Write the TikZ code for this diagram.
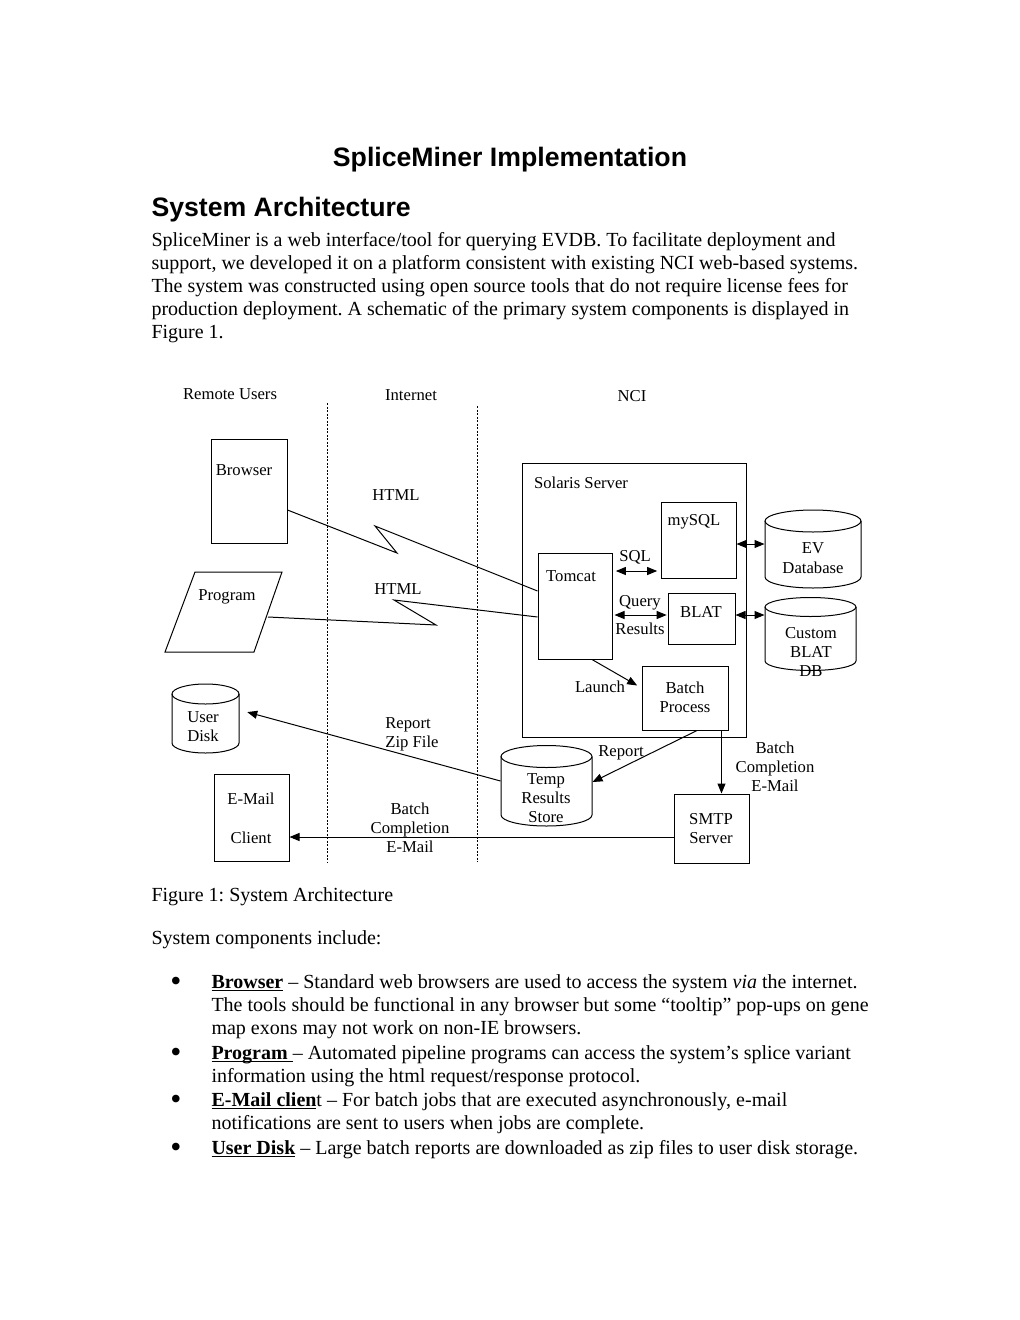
\documentclass[tikz,border=0pt]{standalone}
\usepackage{fontspec}
\setmainfont{Liberation Serif}
\newfontfamily\arialfont{Liberation Sans}
\usetikzlibrary{arrows.meta,fit}
\newcommand{\myul}[1]{\underline{\smash{#1}}}
\frenchspacing
\begin{document}
\begin{tikzpicture}[x=0.6pt,y=-0.6pt,line width=0.6pt,
  box/.style={draw,inner sep=0pt},
  area/.style={inner sep=0pt},
  lbl/.style={font=\fontsize{10}{12}\selectfont,inner sep=0pt,text height=6.6pt,text depth=0pt},
  body/.style={font=\fontsize{12}{14}\selectfont\frenchspacing,inner sep=0pt,anchor=base west},
  tip/.style={-{Triangle[length=6pt,width=4.8pt]}},
  dtip/.style={{Triangle[length=6pt,width=4.8pt]}-{Triangle[length=6pt,width=4.8pt]}},
  sep/.style={dash pattern=on 1.2pt off 0.9pt,line width=0.5pt}]
\fill[white] (0,0) rectangle (1020,1320);
\useasboundingbox (0,0) rectangle (1020,1320);

% ---------- page text ----------
\node[inner sep=0pt,anchor=base,font=\arialfont\bfseries\fontsize{16}{19}\selectfont] (title) at (510,166) {SpliceMiner Implementation};
\node[inner sep=0pt,anchor=base west,font=\arialfont\bfseries\fontsize{16}{19}\selectfont] (head) at (151,216) {System Architecture};
\node[body] (p1) at (151,246) {SpliceMiner is a web interface/tool for querying EVDB. To facilitate deployment and};
\node[body] (p2) at (151,269) {support, we developed it on a platform consistent with existing NCI web-based systems.};
\node[body] (p3) at (151,292) {The system was constructed using open source tools that do not require license fees for};
\node[body] (p4) at (151,315) {production deployment. A schematic of the primary system components is displayed in};
\node[body] (p5) at (151,338) {Figure 1.};

\node[body] (cap) at (151,901) {Figure 1: System Architecture};
\node[body] (inc) at (151,944) {System components include:};

\foreach \n/\yy in {b1/988,b2/1059,b3/1106,b4/1154}
  \node[inner sep=0pt,anchor=base,font=\fontsize{19}{20}\selectfont] (\n) at (176,\yy+3) {•};
\node[body] (l1) at (211,988) {\myul{\textbf{Browser}} – Standard web browsers are used to access the system \textit{via} the internet.};
\node[body] (l2) at (211,1011) {The tools should be functional in any browser but some “tooltip” pop-ups on gene};
\node[body] (l3) at (211,1034) {map exons may not work on non-IE browsers.};
\node[body] (l4) at (211,1059) {\myul{\textbf{Program}\ }– Automated pipeline programs can access the system’s splice variant};
\node[body] (l5) at (211,1082) {information using the html request/response protocol.};
\node[body] (l6) at (211,1106) {\myul{\textbf{E-Mail clien}}t – For batch jobs that are executed asynchronously, e-mail};
\node[body] (l7) at (211,1129) {notifications are sent to users when jobs are complete.};
\node[body] (l8) at (211,1154) {\myul{\textbf{User Disk}} – Large batch reports are downloaded as zip files to user disk storage.};

% ---------- diagram ----------
\node[lbl] (tRU) at (230,394) {Remote Users};
\node[lbl] (tIN) at (411,395) {Internet};
\node[lbl] (tNCI) at (632,396) {NCI};

\coordinate (s1t) at (327,403);
\coordinate (s1b) at (327,862);
\coordinate (s2t) at (477,406);
\coordinate (s2b) at (477,862);
\draw[sep] (s1t) -- (s1b);
\draw[sep] (s2t) -- (s2b);

% boxes
\node[box,fit={(211,439) (287,543)}] (browser) {};
\node[lbl] at (244,470) {Browser};
\node[box,fit={(522,463) (746,737)}] (solaris) {};
\node[lbl] at (581,483) {Solaris Server};
\node[box,fit={(661,502) (736,578)}] (mysql) {};
\node[lbl] at (694,520) {mySQL};
\node[box,fit={(538,553) (612,659)}] (tomcat) {};
\node[lbl] at (571,576) {Tomcat};
\node[box,fit={(668,593) (735,644)}] (blat) {};
\node[lbl] at (701,612) {BLAT};
\node[box,fit={(642,666) (728,730)}] (batch) {};
\node[lbl] at (685,688) {Batch};
\node[lbl] at (685,707) {Process};
\node[box,fit={(674,794) (749,863)}] (smtp) {};
\node[lbl] at (711,819) {SMTP};
\node[lbl] at (711,838) {Server};
\node[box,fit={(214,774) (289,861)}] (email) {};
\node[lbl] at (251,799) {E-Mail};
\node[lbl] at (251,838) {Client};

% program parallelogram
\node[area,fit={(165,572) (282,652)}] (prog) {};
\draw (195,572) -- (282,572) -- (254,652) -- (165,652) -- cycle;
\node[lbl] at (227,595) {Program};
\coordinate (progR) at (268,617);

% cylinders
\node[area,fit={(765,510) (861,588)}] (ev) {};
\draw (813,521) ellipse [x radius=28.8pt,y radius=6.6pt];
\draw (765,521) -- (765,577) arc[start angle=180,end angle=360,x radius=28.8pt,y radius=6.6pt] -- (861,521);
\node[lbl] at (813,548) {EV};
\node[lbl] at (813,568) {Database};

\node[area,fit={(765,598) (856,671)}] (cblat) {};
\draw (810.5,607) ellipse [x radius=27.3pt,y radius=5.7pt];
\draw (765,607) -- (765,661) arc[start angle=180,end angle=360,x radius=27.3pt,y radius=5.7pt] -- (856,607);
\node[lbl] at (811,633) {Custom};
\node[lbl] at (811,652) {BLAT};
\node[lbl] at (811,671) {DB};

\node[area,fit={(172,684) (239,753)}] (udisk) {};
\draw (205.5,694) ellipse [x radius=20.1pt,y radius=6pt];
\draw (172,694) -- (172,743) arc[start angle=180,end angle=360,x radius=20.1pt,y radius=6pt] -- (239,694);
\node[lbl] at (203,717) {User};
\node[lbl] at (203,736) {Disk};

\node[area,fit={(501,745) (592,826)}] (temp) {};
\draw (546.5,756.5) ellipse [x radius=27.3pt,y radius=6.6pt];
\draw (501,756.5) -- (501,815) arc[start angle=180,end angle=360,x radius=27.3pt,y radius=6.6pt] -- (592,756.5);
\node[lbl] at (546,779) {Temp};
\node[lbl] at (546,798) {Results};
\node[lbl] at (546,817) {Store};

% labels
\node[lbl] at (396,495) {HTML};
\node[lbl] at (398,589) {HTML};
\node[lbl] at (635,556) {SQL};
\node[lbl] at (640,601) {Query};
\node[lbl] at (640,629) {Results};
\node[lbl] at (600,687) {Launch};
\node[lbl] at (408,723) {Report};
\node[lbl] at (412,742) {Zip File};
\node[lbl] at (621,751) {Report};
\node[lbl] at (775,748) {Batch};
\node[lbl] at (775,767) {Completion};
\node[lbl] at (775,786) {E-Mail};
\node[lbl] at (410,809) {Batch};
\node[lbl] at (410,828) {Completion};
\node[lbl] at (410,847) {E-Mail};

% connectors
\draw (browser.east |- 0,510) -- (397,553) -- (375,526) -- (tomcat.west |- 0,591);
\draw (progR) -- (436,625) -- (394,600) -- (tomcat.west |- 0,617);
\draw[dtip,shorten <=2pt,shorten >=2pt] (tomcat.east |- 0,571) -- (mysql.west |- 0,571);
\draw[dtip,shorten <=1.2pt,shorten >=0.5pt] (tomcat.east |- 0,615) -- (blat.west |- 0,615);
\draw[dtip] (mysql.east |- 0,544) -- (ev.west |- 0,544);
\draw[dtip] (blat.east |- 0,615) -- (cblat.west |- 0,615);
\draw[tip,shorten >=3pt] (tomcat.south -| 592,0) -- (batch.west |- 0,688);
\draw[tip] (batch.south -| 697,0) -- (temp.east |- 0,782);
\draw[tip] (batch.south -| 721.5,0) -- (smtp.north -| 721.5,0);
\draw[tip,shorten >=4.8pt] (temp.west |- 0,781) -- (udisk.east |- 0,710);
\draw[tip] (smtp.west |- 0,837) -- (email.east |- 0,837);
\end{tikzpicture}
\end{document}
